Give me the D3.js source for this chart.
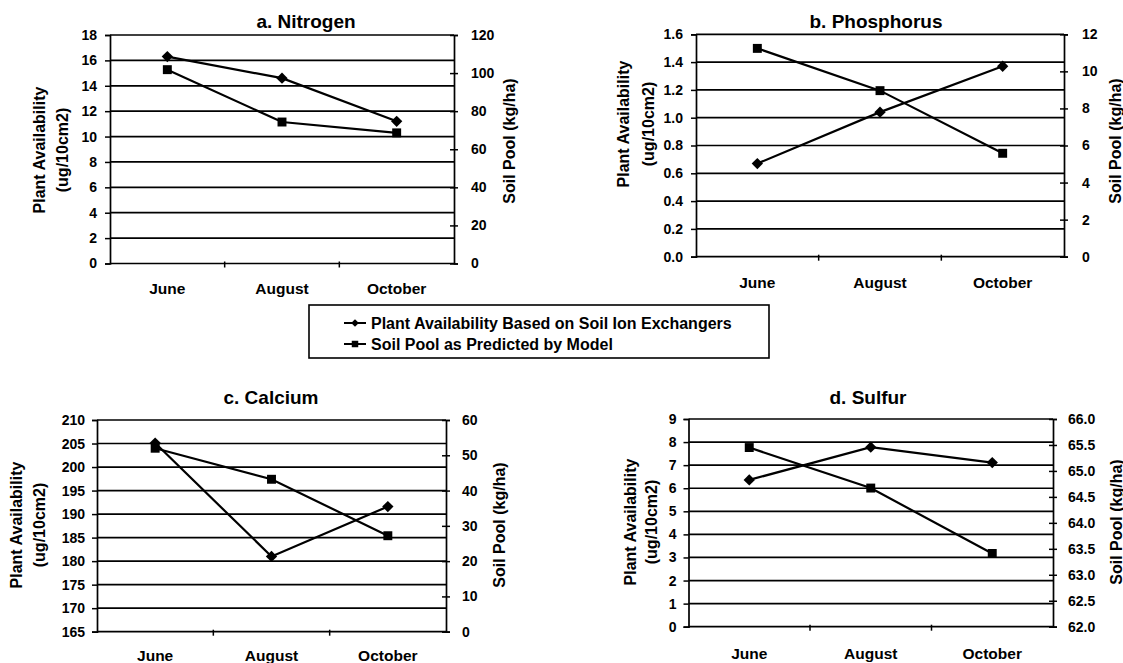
<!DOCTYPE html>
<html><head><meta charset="utf-8">
<script src="https://cdn.jsdelivr.net/npm/d3@7/dist/d3.min.js"></script>
<style>
body{margin:0;background:#fff;}
svg{display:block;font-family:"Liberation Sans",Arial,sans-serif;font-weight:bold;}
</style></head>
<body><svg id="c" width="1123" height="663"></svg>
<script>
// ---------- DATA ----------
const months = ["June", "August", "October"];

const titleN = "a. Nitrogen";
const plantN = [16.3, 14.6, 11.2];
const soilN  = [101.8, 74.3, 68.6];
const leftTicksN  = [0, 2, 4, 6, 8, 10, 12, 14, 16, 18];
const rightTicksN = [0, 20, 40, 60, 80, 100, 120];

const titleP = "b. Phosphorus";
const plantP = [0.67, 1.04, 1.37];
const soilP  = [11.24, 8.96, 5.58];
const leftTicksP  = [0.0, 0.2, 0.4, 0.6, 0.8, 1.0, 1.2, 1.4, 1.6];
const rightTicksP = [0, 2, 4, 6, 8, 10, 12];

const titleCa = "c. Calcium";
const plantCa = [205.1, 181.0, 191.6];
const soilCa  = [52.0, 43.2, 27.2];
const leftTicksCa  = [165, 170, 175, 180, 185, 190, 195, 200, 205, 210];
const rightTicksCa = [0, 10, 20, 30, 40, 50, 60];

const titleS = "d. Sulfur";
const plantS = [6.36, 7.78, 7.11];
const soilS  = [65.45, 64.67, 63.41];
const leftTicksS  = [0, 1, 2, 3, 4, 5, 6, 7, 8, 9];
const rightTicksS = [62.0, 62.5, 63.0, 63.5, 64.0, 64.5, 65.0, 65.5, 66.0];

const leftTitle1 = "Plant Availability";
const leftTitle2 = "(ug/10cm2)";
const rightTitle = "Soil Pool (kg/ha)";
const legendLabels = ["Plant Availability Based on Soil Ion Exchangers", "Soil Pool as Predicted by Model"];

// ---------- LAYOUT ----------
const panels = [
  {title: titleN, plant: plantN, soil: soilN, lt: leftTicksN, rt: rightTicksN, lfmt: d3.format("d"), rfmt: d3.format("d"),
   L: 110, R: 454, T: 35, B: 263.5, tx: 306, ty: 28, xly: 294, ltx: [39, 62], lty: 150, rtx: 509, rty: 141, lgap: 13, rgap: 17},
  {title: titleP, plant: plantP, soil: soilP, lt: leftTicksP, rt: rightTicksP, lfmt: d3.format(".1f"), rfmt: d3.format("d"),
   L: 696, R: 1064, T: 34.3, B: 256.7, tx: 876, ty: 28, xly: 288, ltx: [623, 648], lty: 124, rtx: 1115, rty: 141, lgap: 13, rgap: 18},
  {title: titleCa, plant: plantCa, soil: soilCa, lt: leftTicksCa, rt: rightTicksCa, lfmt: d3.format("d"), rfmt: d3.format("d"),
   L: 97, R: 446, T: 420, B: 631.7, tx: 271, ty: 404, xly: 661, ltx: [16, 39], lty: 525, rtx: 499, rty: 525, lgap: 12, rgap: 16},
  {title: titleS, plant: plantS, soil: soilS, lt: leftTicksS, rt: rightTicksS, lfmt: d3.format("d"), rfmt: d3.format(".1f"),
   L: 688.5, R: 1053, T: 419, B: 626.7, tx: 868, ty: 404, xly: 659, ltx: [630, 651], lty: 522, rtx: 1116, rty: 522, lgap: 12, rgap: 15}
];

const svg = d3.select("#c");
const diamond = d3.symbol().type(d3.symbolSquare).size(64);
const square = d3.symbol().type(d3.symbolSquare).size(80);
const FONT = "Liberation Sans, Arial, sans-serif";

panels.forEach(p => {
  const g = svg.append("g");
  const x = d3.scaleBand().domain(months).range([p.L, p.R]);
  const yL = d3.scaleLinear().domain(d3.extent(p.lt)).range([p.B, p.T]);
  const yR = d3.scaleLinear().domain(d3.extent(p.rt)).range([p.B, p.T]);

  // gridlines
  g.selectAll("line.grid").data(p.lt).join("line")
    .attr("x1", p.L).attr("x2", p.R)
    .attr("y1", d => yL(d)).attr("y2", d => yL(d))
    .attr("stroke", "#000").attr("stroke-width", 1.7);

  // left axis
  const la = g.append("g").attr("transform", `translate(${p.L},0)`)
    .call(d3.axisLeft(yL).tickValues(p.lt).tickFormat(p.lfmt).tickSize(5).tickPadding(p.lgap - 5));
  la.select(".domain").attr("stroke-width", 1.7);
  la.selectAll(".tick line").attr("stroke-width", 1.5);
  la.selectAll("text").attr("font-size", 14).attr("font-weight", "bold").attr("fill", "#000").attr("font-family", FONT);

  // right axis
  const ra = g.append("g").attr("transform", `translate(${p.R},0)`)
    .call(d3.axisRight(yR).tickValues(p.rt).tickFormat(p.rfmt).tickSize(4).tickPadding(p.rgap - 4));
  ra.select(".domain").attr("stroke-width", 1.7);
  ra.selectAll(".tick line").attr("x1", -4).attr("stroke-width", 1.5);
  ra.selectAll("text").attr("font-size", 14).attr("font-weight", "bold").attr("fill", "#000").attr("font-family", FONT);

  // bottom axis: labels at band centres, ticks at band boundaries
  g.selectAll("line.bt").data(months.slice(1)).join("line")
    .attr("x1", d => x(d)).attr("x2", d => x(d))
    .attr("y1", p.B - 2).attr("y2", p.B + 4)
    .attr("stroke", "#000").attr("stroke-width", 1.5);
  g.selectAll("text.xl").data(months).join("text")
    .attr("x", d => x(d) + x.bandwidth() / 2).attr("y", p.xly)
    .attr("text-anchor", "middle").attr("font-size", 15.5).text(d => d);

  // title
  g.append("text").attr("x", p.tx).attr("y", p.ty).attr("text-anchor", "middle")
    .attr("font-size", 19).text(p.title);

  // axis titles
  g.append("text").attr("transform", `translate(${p.ltx[0]},${p.lty}) rotate(-90)`)
    .attr("text-anchor", "middle").attr("dominant-baseline", "central").attr("font-size", 16).text(leftTitle1);
  g.append("text").attr("transform", `translate(${p.ltx[1]},${p.lty}) rotate(-90)`)
    .attr("text-anchor", "middle").attr("dominant-baseline", "central").attr("font-size", 16).text(leftTitle2);
  g.append("text").attr("transform", `translate(${p.rtx},${p.rty}) rotate(-90)`)
    .attr("text-anchor", "middle").attr("dominant-baseline", "central").attr("font-size", 16).text(rightTitle);

  const cx = m => x(m) + x.bandwidth() / 2;
  // plant availability line (left axis)
  g.append("path").datum(p.plant)
    .attr("d", d3.line().x((d, i) => cx(months[i])).y(d => yL(d)))
    .attr("fill", "none").attr("stroke", "#000").attr("stroke-width", 2.2);
  g.selectAll("path.dm").data(p.plant).join("path")
    .attr("d", diamond)
    .attr("transform", (d, i) => `translate(${cx(months[i])},${yL(d)}) rotate(45)`)
    .attr("fill", "#000");
  // soil pool line (right axis)
  g.append("path").datum(p.soil)
    .attr("d", d3.line().x((d, i) => cx(months[i])).y(d => yR(d)))
    .attr("fill", "none").attr("stroke", "#000").attr("stroke-width", 2.2);
  g.selectAll("path.sq").data(p.soil).join("path")
    .attr("d", square)
    .attr("transform", (d, i) => `translate(${cx(months[i])},${yR(d)})`)
    .attr("fill", "#000");
});

// legend
const lg = svg.append("g");
lg.append("rect").attr("x", 309).attr("y", 305).attr("width", 460).attr("height", 53)
  .attr("fill", "#fff").attr("stroke", "#000").attr("stroke-width", 1.6);
const ly = [323, 344];
legendLabels.forEach((t, i) => {
  lg.append("line").attr("x1", 344).attr("x2", 366).attr("y1", ly[i]).attr("y2", ly[i])
    .attr("stroke", "#000").attr("stroke-width", 2);
  lg.append("path").attr("d", i === 0 ? d3.symbol().type(d3.symbolSquare).size(30)() : d3.symbol().type(d3.symbolSquare).size(42)())
    .attr("transform", `translate(355,${ly[i]})` + (i === 0 ? " rotate(45)" : "")).attr("fill", "#000");
  lg.append("text").attr("x", 371).attr("y", ly[i]).attr("dominant-baseline", "central")
    .attr("font-size", 16).text(t);
});
</script></body></html>
